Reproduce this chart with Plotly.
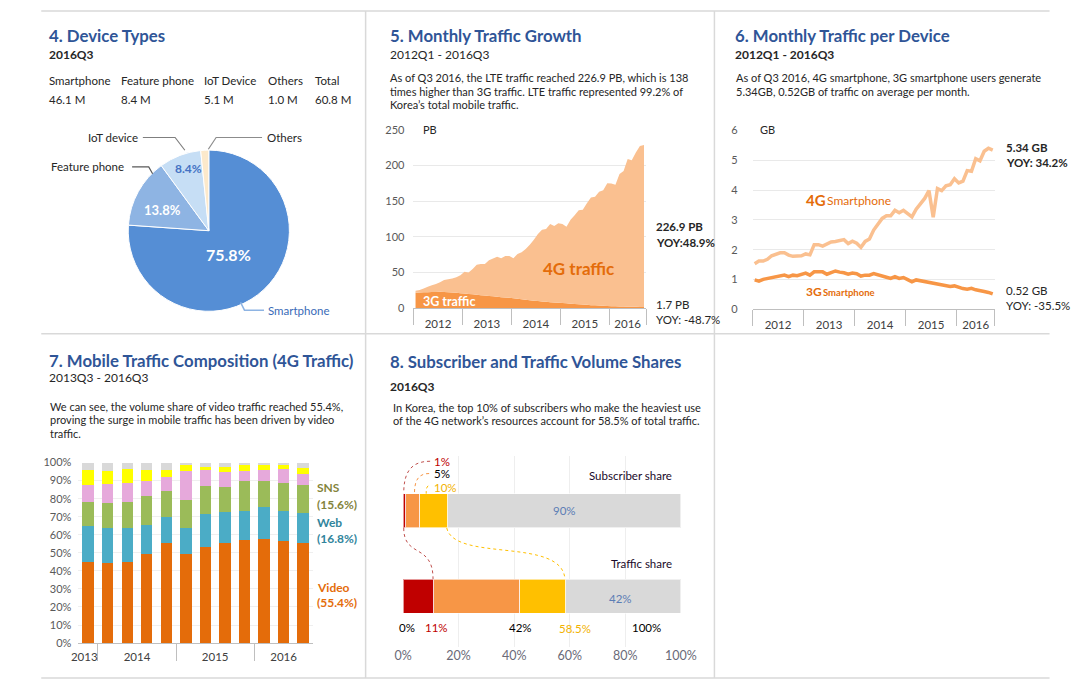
import plotly.graph_objects as go

W, H = 1089, 689


def fx(p):
    return p / W


def fy(p):
    return 1 - p / H


BODY = "Lato, 'Open Sans', sans-serif"
TITLE_C = "#2F5597"
TXT = "#262626"
TICK = "#595959"
GRID = "#E9E9E9"
AXIS = "#BFBFBF"

# ---------------- data ----------------
# Panel 4: device types (2016Q3)
device_names = ["Smartphone", "Feature phone", "IoT Device", "Others"]
device_counts_m = [46.1, 8.4, 5.1, 1.0]
device_total_m = 60.8
pie_labels = ["Smartphone", "Feature phone", "IoT device", "Others"]
device_share_pct = [75.8, 13.8, 8.4, 1.6]
pie_colors = ["#558ED5", "#8EB4E3", "#C6DEF5", "#FCE9CB"]

# Panel 5: monthly traffic (PB), 2012-01 .. 2016-09
traffic_3g_pb = [21.5, 22.0, 22.3, 22.5, 22.8, 22.8, 23.0, 22.8, 22.5, 22.0, 21.5, 21.0,
                 20.5, 20.0, 19.5, 18.8, 18.2, 17.8, 17.2, 16.6, 16.0, 15.5, 15.0, 14.5,
                 13.8, 13.2, 12.5, 11.8, 11.2, 10.6, 10.0, 9.5, 9.0, 8.5, 8.0, 7.6,
                 7.2, 6.8, 6.4, 6.0, 5.5, 5.1, 4.7, 4.3, 4.0, 3.7, 3.4, 3.1,
                 2.9, 2.7, 2.5, 2.3, 2.2, 2.0, 1.9, 1.8, 1.7]
traffic_4g_pb = [3.0, 3.5, 5.2, 7.5, 9.2, 11.2, 13.5, 16.7, 18.0, 19.5, 22.0, 25.0,
                 30.5, 30.0, 35.5, 42.2, 43.8, 44.2, 49.8, 52.9, 56.0, 54.5, 58.0, 58.5,
                 56.2, 62.8, 66.0, 71.2, 77.8, 85.4, 94.0, 100.5, 102.0, 109.5, 107.0, 111.4,
                 110.8, 107.2, 117.6, 124.0, 131.5, 132.9, 142.3, 150.7, 152.0, 159.3, 161.6, 171.9,
                 171.6, 170.3, 185.5, 189.7, 206.8, 205.0, 216.1, 225.2, 226.9]
year_labels = ["2012", "2013", "2014", "2015", "2016"]
year_centers = [5.5, 17.5, 29.5, 41.5, 52.0]
year_bounds = [-0.5, 11.5, 23.5, 35.5, 47.5, 56.5]
pb_ticks = [0, 50, 100, 150, 200, 250]

# Panel 6: monthly traffic per device (GB)
per_device_4g_gb = [1.53, 1.62, 1.62, 1.68, 1.80, 1.86, 1.90, 1.90, 1.82, 1.78, 1.79, 1.80,
                    1.86, 1.83, 2.17, 2.17, 2.12, 2.18, 2.26, 2.28, 2.30, 2.34, 2.21, 2.29,
                    2.22, 2.08, 2.28, 2.36, 2.66, 2.85, 3.05, 3.14, 3.14, 3.32, 3.24, 3.32,
                    3.22, 3.10, 3.36, 3.52, 3.72, 3.98, 3.09, 4.05, 3.98, 4.14, 4.18, 4.38,
                    4.24, 4.30, 4.65, 4.63, 5.05, 4.98, 5.30, 5.40, 5.34]
per_device_3g_gb = [0.99, 0.95, 1.01, 1.04, 1.06, 1.09, 1.12, 1.15, 1.10, 1.15, 1.13, 1.18,
                    1.22, 1.15, 1.26, 1.26, 1.26, 1.18, 1.24, 1.29, 1.25, 1.23, 1.18, 1.22,
                    1.20, 1.12, 1.15, 1.15, 1.20, 1.15, 1.12, 1.08, 1.04, 1.10, 1.04, 1.07,
                    1.00, 0.93, 0.99, 0.96, 0.95, 0.92, 0.89, 0.86, 0.83, 0.78, 0.77, 0.79,
                    0.73, 0.70, 0.68, 0.71, 0.66, 0.64, 0.60, 0.57, 0.52]
gb_ticks = [0, 1, 2, 3, 4, 5, 6]

# Panel 7: 4G traffic composition (%), quarterly 2013Q4 .. 2016Q3
comp_quarters = ["2013Q4", "2014Q1", "2014Q2", "2014Q3", "2014Q4", "2015Q1",
                 "2015Q2", "2015Q3", "2015Q4", "2016Q1", "2016Q2", "2016Q3"]
comp_video = [45.1, 44.6, 45.1, 49.1, 55.4, 49.1, 53.4, 55.4, 57.1, 57.6, 56.5, 55.4]
comp_web = [19.8, 19.2, 18.7, 16.3, 14.3, 14.7, 18.0, 17.1, 16.3, 17.9, 16.9, 16.8]
comp_sns = [13.0, 13.6, 14.6, 16.1, 14.5, 15.7, 15.6, 13.9, 16.5, 14.4, 15.4, 15.6]
comp_other1 = [9.6, 10.8, 10.2, 8.2, 7.6, 15.6, 8.7, 8.2, 5.2, 5.8, 7.4, 5.7]
comp_other2 = [8.2, 6.9, 7.8, 6.0, 3.9, 3.3, 2.1, 3.2, 3.3, 2.7, 2.2, 3.2]
comp_other3 = [4.3, 4.9, 3.6, 4.3, 4.3, 1.6, 2.2, 2.2, 1.6, 1.6, 1.6, 3.3]
comp_year_labels = ["2013", "2014", "2015", "2016"]
comp_year_pos = [-0.2, 2.5, 6.5, 10.0]
comp_year_bounds = [0.5, 4.5, 8.5]
pct_ticks10 = list(range(0, 101, 10))

# Panel 8: subscriber vs traffic shares (segment widths as drawn, %)
share_rows = ["Traffic share", "Subscriber share"]
seg_names = ["Top 1%", "Top 1-5%", "Top 5-10%", "Rest"]
subscriber_share = [1, 5, 10, 84]
traffic_share = [11, 31, 16.5, 41.5]
seg_colors = ["#C00000", "#F79646", "#FFC000", "#D9D9D9"]
pct_ticks20 = [0, 20, 40, 60, 80, 100]

# ---------------- figure ----------------
fig = go.Figure()

fig.add_trace(go.Pie(
    values=device_share_pct, labels=pie_labels, sort=False, direction="clockwise",
    rotation=0, marker=dict(colors=pie_colors, line=dict(color="white", width=1)),
    textinfo="none", hoverinfo="skip", showlegend=False,
    domain=dict(x=[fx(122), fx(287)], y=[fy(310.5), fy(145.5)])))

months = list(range(len(traffic_4g_pb)))
fig.add_trace(go.Scatter(x=months, y=traffic_3g_pb, stackgroup="p5", mode="none",
                         fillcolor="#F79646", xaxis="x", yaxis="y", hoverinfo="skip"))
fig.add_trace(go.Scatter(x=months, y=traffic_4g_pb, stackgroup="p5", mode="none",
                         fillcolor="#FAC090", xaxis="x", yaxis="y", hoverinfo="skip"))
fig.add_trace(go.Scatter(x=months, y=per_device_4g_gb, mode="lines",
                         line=dict(color="#FAC090", width=3.5), xaxis="x2", yaxis="y2",
                         hoverinfo="skip"))
fig.add_trace(go.Scatter(x=months, y=per_device_3g_gb, mode="lines",
                         line=dict(color="#F79646", width=3.5), xaxis="x2", yaxis="y2",
                         hoverinfo="skip"))

qx = list(range(len(comp_quarters)))
for vals, col in [(comp_video, "#E46C0A"), (comp_web, "#4BACC6"), (comp_sns, "#9BBB59"),
                  (comp_other1, "#E6A9DB"), (comp_other2, "#FFFF00"), (comp_other3, "#D9D9D9")]:
    fig.add_trace(go.Bar(x=qx, y=vals, marker=dict(color=col, line=dict(width=0)),
                         width=0.58, xaxis="x3", yaxis="y3", hoverinfo="skip"))

for k in range(4):
    fig.add_trace(go.Bar(y=[0, 1], x=[traffic_share[k], subscriber_share[k]], orientation="h",
                         marker=dict(color=seg_colors[k], line=dict(color="rgba(255,255,255,0.6)", width=1)),
                         width=0.40, xaxis="x4", yaxis="y4", hoverinfo="skip", name=seg_names[k]))

tickfont = dict(family=BODY, size=11, color=TICK)
xfont = dict(family=BODY, size=11.5, color="#404040")

fig.update_layout(
    width=W, height=H, margin=dict(l=0, r=0, t=0, b=0),
    paper_bgcolor="white", plot_bgcolor="rgba(0,0,0,0)",
    showlegend=False, barmode="stack", font=dict(family=BODY, color=TXT),
    xaxis=dict(domain=[fx(414), fx(652)], range=[-0.5, 56.5], anchor="y",
               tickmode="array", tickvals=year_centers, ticktext=year_labels, ticks="",
               showline=True, linecolor=AXIS, showgrid=False, zeroline=False,
               tickfont=xfont, ticklabelstandoff=5,
               minor=dict(tickmode="array", tickvals=year_bounds, ticks="outside",
                          ticklen=16, tickcolor=AXIS, showgrid=False)),
    yaxis=dict(domain=[fy(307), fy(125)], range=[0, 250], anchor="x",
               tickmode="array", tickvals=pb_ticks, ticktext=[str(v) for v in pb_ticks],
               ticks="", showgrid=True, gridcolor=GRID, zeroline=False, showline=False,
               tickfont=tickfont, ticklabelstandoff=8),
    xaxis2=dict(domain=[fx(761), fx(1009)], range=[-0.5, 56.5], anchor="y2",
                tickmode="array", tickvals=year_centers, ticktext=year_labels, ticks="",
                showline=True, linecolor=AXIS, showgrid=False, zeroline=False,
                tickfont=xfont, ticklabelstandoff=5,
                minor=dict(tickmode="array", tickvals=year_bounds, ticks="outside",
                           ticklen=16, tickcolor=AXIS, showgrid=False)),
    yaxis2=dict(domain=[fy(308.3), fy(125.7)], range=[0, 6], anchor="x2",
                tickmode="array", tickvals=gb_ticks, ticktext=[str(v) for v in gb_ticks],
                ticks="", showgrid=True, gridcolor=GRID, zeroline=False, showline=False,
                tickfont=tickfont, ticklabelstandoff=14),
    xaxis3=dict(domain=[fx(71), fx(311)], range=[-0.5, 11.5], anchor="y3",
                tickmode="array", tickvals=comp_year_pos, ticktext=comp_year_labels, ticks="",
                showline=True, linecolor=AXIS, showgrid=False, zeroline=False,
                tickfont=xfont, ticklabelstandoff=3,
                minor=dict(tickmode="array", tickvals=comp_year_bounds, ticks="outside",
                           ticklen=17, tickcolor=AXIS, showgrid=False)),
    yaxis3=dict(domain=[fy(648.3), fy(464.3)], range=[0, 100], anchor="x3",
                tickmode="array", tickvals=pct_ticks10, ticktext=[f"{v}%" for v in pct_ticks10],
                ticks="", showgrid=True, gridcolor="#EFEFEF", zeroline=False, showline=False,
                tickfont=tickfont, ticklabelstandoff=6),
    xaxis4=dict(domain=[fx(403.3), fx(687.7)], range=[0, 100], anchor="y4",
                tickmode="array", tickvals=pct_ticks20, ticktext=[f"{v}%" for v in pct_ticks20],
                ticks="", showgrid=True, gridcolor="#EEEEEE", zeroline=False, showline=False,
                tickfont=dict(family=BODY, size=12.5, color="#6A6A78")),
    yaxis4=dict(domain=[fy(652), fy(458)], range=[-0.592, 1.638], anchor="x4",
                visible=False),
)

anns = []


def ann(text, x, y, size=11.5, color=TXT, bold=False, xanchor="left"):
    if bold:
        text = "<b>" + text + "</b>"
    anns.append(dict(text=text, x=fx(x), y=fy(y), xref="paper", yref="paper",
                     xanchor=xanchor, yanchor="middle", showarrow=False,
                     font=dict(family=BODY, size=size, color=color)))


# titles
for t, x, y in [("4. Device Types", 39, 29), ("5. Monthly Traffic Growth", 388, 29),
                ("6. Monthly Traffic per Device", 741, 29),
                ("7. Mobile Traffic Composition (4G Traffic)", 39, 360),
                ("8. Subscriber and Traffic Volume Shares", 388, 361)]:
    ann(t, x, y, size=16.8, color=TITLE_C, bold=True)

# subtitles
ann("2016Q3", 39, 48, size=12, bold=True)
ann("2012Q1 - 2016Q3", 388, 48, size=12)
ann("2012Q1 - 2016Q3", 741, 48, size=12, bold=True)
ann("2013Q3 - 2016Q3", 39, 378, size=12)
ann("2016Q3", 388, 387, size=12, bold=True)

# descriptions
for t, y in [("As of Q3 2016, the LTE traffic reached 226.9 PB, which is 138", 71.7),
             ("times higher than 3G traffic. LTE traffic represented 99.2% of", 85.7),
             ("Korea’s total mobile traffic.", 99.3)]:
    ann(t, 388, y, size=11)
for t, y in [("As of Q3 2016, 4G smartphone, 3G smartphone users generate", 71.7),
             ("5.34GB, 0.52GB of traffic on average per month.", 86)]:
    ann(t, 742, y, size=11)
for t, y in [("We can see, the volume share of video traffic reached 55.4%,", 406.7),
             ("proving the surge in mobile traffic has been driven by video", 420.7),
             ("traffic.", 434.7)]:
    ann(t, 40, y, size=11)
for t, y in [("In Korea, the top 10% of subscribers who make the heaviest use", 407.7),
             ("of the 4G network’s resources account for 58.5% of total traffic.", 421.7)]:
    ann(t, 391, y, size=11)

# device table
col_x = [39, 113, 198, 263, 311]
for name, v, x in zip(device_names + ["Total"], device_counts_m + [device_total_m], col_x):
    ann(name, x, 75, size=11.5)
    ann(f"{v} M", x, 94, size=11.5)

# pie labels
ann(f"{device_share_pct[0]}%", 225, 252, size=16, color="white", bold=True, xanchor="center")
ann(f"{device_share_pct[1]}%", 157, 207, size=13, color="white", bold=True, xanchor="center")
ann(f"{device_share_pct[2]}%", 184, 165, size=12, color="#4472C4", bold=True, xanchor="center")
ann("IoT device", 134.5, 133, size=11.5, xanchor="right")
ann("Feature phone", 120, 163, size=11.5, xanchor="right")
ann("Others", 262, 133, size=11.5)
ann("Smartphone", 263.5, 309, size=11.5, color="#3A6BB8")

# panel 5 labels
ann("PB", 422, 125, size=11)
ann("4G traffic", 582.5, 267, size=17, color="#E46C0A", bold=True, xanchor="center")
ann("3G traffic", 421.7, 300, size=12.5, color="white", bold=True)
ann(f"{traffic_4g_pb[-1]} PB", 660, 224, size=11.5, bold=True)
ann("YOY:48.9%", 660, 240, size=11.5, bold=True)
ann(f"{traffic_3g_pb[-1]} PB", 660, 303, size=11.5)
ann("YOY: -48.7%", 660, 318, size=11.5)

# panel 6 labels
ann("GB", 767, 125, size=11)
ann("4G", 813.7, 197, size=15, color="#E46C0A", bold=True)
ann("Smartphone", 835, 197.5, size=12, color="#E46C0A")
ann("3G", 813.7, 290, size=12, color="#E46C0A", bold=True)
ann("Smartphone", 831.5, 290.5, size=9.5, color="#E46C0A", bold=True)
ann(f"{per_device_4g_gb[-1]} GB", 1018.7, 143.3, size=11.5, bold=True)
ann("YOY: 34.2%", 1018.7, 158.3, size=11.5, bold=True)
ann(f"{per_device_3g_gb[-1]} GB", 1018.7, 289.3, size=11.5)
ann("YOY: -35.5%", 1018.7, 304, size=11.5)

# panel 7 labels
ann("SNS", 312.7, 490, size=12, color="#84843C", bold=True)
ann(f"({comp_sns[-1]}%)", 312.7, 506.7, size=12, color="#84843C", bold=True)
ann("Web", 312.7, 525, size=12, color="#31859C", bold=True)
ann(f"({comp_web[-1]}%)", 312.7, 541.7, size=12, color="#31859C", bold=True)
ann("Video", 312.7, 591.7, size=12, color="#E46C0A", bold=True)
ann(f"({comp_video[-1]}%)", 312.7, 607.3, size=12, color="#E46C0A", bold=True)

# panel 8 labels
ann("1%", 433.3, 463.3, size=11.5, color="#C00000")
ann("5%", 433.3, 475.5, size=11.5, color="#000000")
ann("10%", 433.3, 489.3, size=11.5, color="#F2B200")
ann("Subscriber share", 681, 477.7, size=11.5, color="#1A0A2A", xanchor="right")
ann("Traffic share", 681, 567.7, size=11.5, color="#1A0A2A", xanchor="right")
ann("90%", 568.3, 513.3, size=11.5, color="#5B7DB5", xanchor="center")
ann("42%", 626.3, 603.3, size=11.5, color="#5B7DB5", xanchor="center")
ann("0%", 407.3, 632.7, size=11.5, color="#000000", xanchor="center")
ann("11%", 437.7, 632.7, size=11.5, color="#C00000", xanchor="center")
ann("42%", 524, 632.7, size=11.5, color="#000000", xanchor="center")
ann("58.5%", 579.3, 633.5, size=11.5, color="#F2B200", xanchor="center")
ann("100%", 652.3, 632.7, size=11.5, color="#000000", xanchor="center")

fig.update_layout(annotations=anns)

# ---------------- decorations ----------------
shapes = []


def line(x0, y0, x1, y1, color="#D9D9D9", width=1.5):
    shapes.append(dict(type="line", xref="paper", yref="paper", x0=fx(x0), y0=fy(y0),
                       x1=fx(x1), y1=fy(y1), line=dict(color=color, width=width)))


def path(cmds, color, width=1, dash="solid"):
    out = []
    for c in cmds:
        if isinstance(c, str):
            out.append(c)
        else:
            out.append(f"{fx(c[0]):.5f},{fy(c[1]):.5f}")
    shapes.append(dict(type="path", xref="paper", yref="paper", path=" ".join(out),
                       line=dict(color=color, width=width, dash=dash)))


# panel borders
line(33, 4, 1065, 4)
line(33, 333, 1065, 333)
line(33, 684, 1065, 684)
line(365, 4, 365, 684)
line(722, 4, 722, 684)

# pie leader lines
path(["M", (137, 133), "L", (170, 133), "L", (180, 146)], "#7F7F7F", 1.2)
path(["M", (126, 163), "L", (143, 163), "L", (147, 170)], "#595959", 1.2)
path(["M", (259, 133), "L", (212, 133), "L", (204, 145)], "#8C8C8C", 1.2)
path(["M", (237, 301), "L", (241, 309), "L", (261, 309)], "#8EB4E3", 1.5)

# panel 8 dotted connectors
path(["M", (431, 463), "C", (410, 463), (404, 476), (404, 496)], "#C0504D", 1, "dot")
path(["M", (430, 475.5), "C", (418, 475.5), (415, 484), (415, 496)], "#F79646", 1, "dot")
path(["M", (429, 488), "C", (427, 490), (427, 492), (427, 496)], "#FFC000", 1, "dot")
path(["M", (404, 531), "C", (404, 562), (434, 546), (434, 583)], "#C0504D", 1, "dot")
path(["M", (448, 531), "C", (456, 566), (566, 540), (569, 583)], "#FFC000", 1, "dot")

fig.update_layout(shapes=shapes)

# pin the figure to the top-left corner of the window (no body margin / scrolling)
PIN = (
    "document.documentElement.style.margin='0';"
    "document.body.style.margin='0';"
    "document.body.style.padding='0';"
    "document.documentElement.style.overflow='hidden';"
    "document.body.style.overflow='hidden';"
    "var gd=document.getElementById('{plot_id}');"
    "gd.style.position='fixed';gd.style.left='0px';gd.style.top='0px';"
)

fig.write_html("out.html", config={"displayModeBar": False, "staticPlot": True},
               post_script=PIN)
